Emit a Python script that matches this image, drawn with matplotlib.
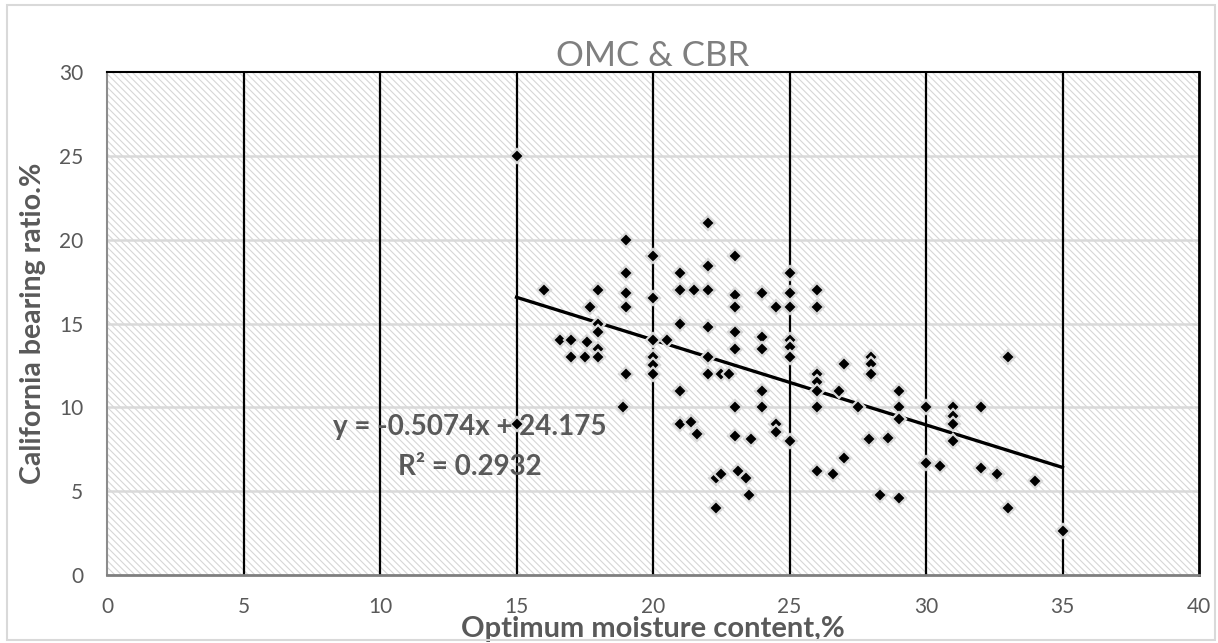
import numpy as np
import matplotlib
matplotlib.use("Agg")
from matplotlib import pyplot as plt
from matplotlib.patches import Rectangle

# optimum moisture content (%) vs california bearing ratio (%)
omc = [15, 15, 16, 16.6, 17, 17, 17.5, 17.6, 17.7, 18, 18, 18, 18, 18,
       18.9, 19, 19, 19, 19, 19, 20, 20, 20, 20, 20, 20, 20.5,
       21, 21, 21, 21, 21, 21.4, 21.5, 21.6,
       22, 22, 22, 22, 22, 22, 22.3, 22.3, 22.5, 22.5, 22.8,
       23, 23, 23, 23, 23, 23, 23, 23.1, 23.4, 23.5, 23.6,
       24, 24, 24, 24, 24, 24.5, 24.5, 24.5,
       25, 25, 25, 25, 25, 25, 25,
       26, 26, 26, 26, 26, 26, 26, 26.6, 26.8, 27, 27, 27.5, 27.9,
       28, 28, 28, 28.3, 28.6, 29, 29, 29, 29,
       30, 30, 30.5, 31, 31, 31, 31, 32, 32, 32.6, 33, 33, 34, 35]
cbr = [25, 9, 17, 14, 14, 13, 13, 13.9, 16, 17, 15, 14.5, 13.5, 13,
       10, 20, 18, 16.8, 16, 12, 19, 16.5, 14, 13, 12.5, 12, 14,
       18, 17, 15, 11, 9, 9.1, 17, 8.4,
       21, 18.4, 17, 14.8, 13, 12, 5.8, 4, 12, 6, 12,
       19, 16.7, 16, 14.5, 13.5, 10, 8.3, 6.2, 5.8, 4.8, 8.1,
       16.8, 14.2, 13.5, 11, 10, 16, 9, 8.5,
       18, 16.8, 16, 14, 13.6, 13, 8,
       17, 16, 12, 11.5, 11, 10, 6.2, 6, 11, 12.6, 7, 10, 8.1,
       13, 12.6, 12, 4.8, 8.2, 11, 10, 9.3, 4.6,
       10, 6.7, 6.5, 10, 9.5, 9, 8, 10, 6.4, 6, 13, 4, 5.6, 2.6]

slope = -0.5074
intercept = 24.175
r2 = 0.2932
trend_x = [15, 35]

x_ticks = [0, 5, 10, 15, 20, 25, 30, 35, 40]
y_ticks = [0, 5, 10, 15, 20, 25, 30]

grey_txt = '#595959'
plt.rcParams['font.family'] = ['Lato', 'DejaVu Sans']
plt.rcParams['hatch.linewidth'] = 0.8

fig = plt.figure(figsize=(12.18, 6.43), dpi=100)
ax = fig.add_axes([107 / 1218, 1 - 575 / 643, 1092 / 1218, 503 / 643])

# outer chart border
fig.patches.append(Rectangle((7 / 1218, 3 / 643), 1208 / 1218, 635 / 643,
                             transform=fig.transFigure, fill=False,
                             edgecolor='#d9d9d9', linewidth=1.5))

# hatched plot area
ax.add_patch(Rectangle((0, 0), 1, 1, transform=ax.transAxes, facecolor='white',
                       edgecolor='#d6d6d6', hatch='\\\\\\\\\\', linewidth=0, zorder=0))

ax.set_xlim(0, 40)
ax.set_ylim(0, 30)
ax.set_xticks(x_ticks)
ax.set_yticks(y_ticks)
ax.tick_params(length=0, labelsize=15, labelcolor=grey_txt)
ax.tick_params(axis='x', pad=16)
ax.tick_params(axis='y', pad=17)

for yv in y_ticks[1:-1]:
    ax.axhline(yv, color='#d9d9d9', linewidth=1.8, zorder=1)
for xv in x_ticks[1:-1]:
    ax.axvline(xv, color='black', linewidth=1.6, zorder=1)

ax.spines['left'].set_color('#8c8c8c')
ax.spines['left'].set_linewidth(1.5)
ax.spines['bottom'].set_color('#7f7f7f')
ax.spines['bottom'].set_linewidth(2)
ax.spines['top'].set_color('black')
ax.spines['top'].set_linewidth(1.5)
ax.spines['right'].set_color('black')
ax.spines['right'].set_linewidth(2)

tx = np.array(trend_x)
ax.plot(tx, slope * tx + intercept, color='black', linewidth=2.4, zorder=3)

ax.plot(omc, cbr, linestyle='none', marker='D', markersize=7.5,
        markerfacecolor='black', markeredgecolor='#d9d9d9',
        markeredgewidth=1.6, zorder=4)

ax.text(13.3, 8.83, f'y = {slope}x + {intercept}', ha='center', va='center',
        fontsize=20, fontweight='bold', color=grey_txt, zorder=5)
ax.text(13.3, 6.44, f'R² = {r2}', ha='center', va='center',
        fontsize=20, fontweight='bold', color=grey_txt, zorder=5)

ax.set_title('OMC & CBR', fontsize=25, color='#7f7f7f', pad=4)
ax.set_xlabel('Optimum moisture content,%', fontsize=21, fontweight='bold',
              color=grey_txt, va='center')
ax.xaxis.set_label_coords(0.5, (575 - 629) / 503)
ax.set_ylabel('California bearing ratio.%', fontsize=20.5, fontweight='bold',
              color=grey_txt, va='center')
ax.yaxis.set_label_coords((33 - 107) / 1092, 0.5)

fig.savefig('out.png', dpi=100)
